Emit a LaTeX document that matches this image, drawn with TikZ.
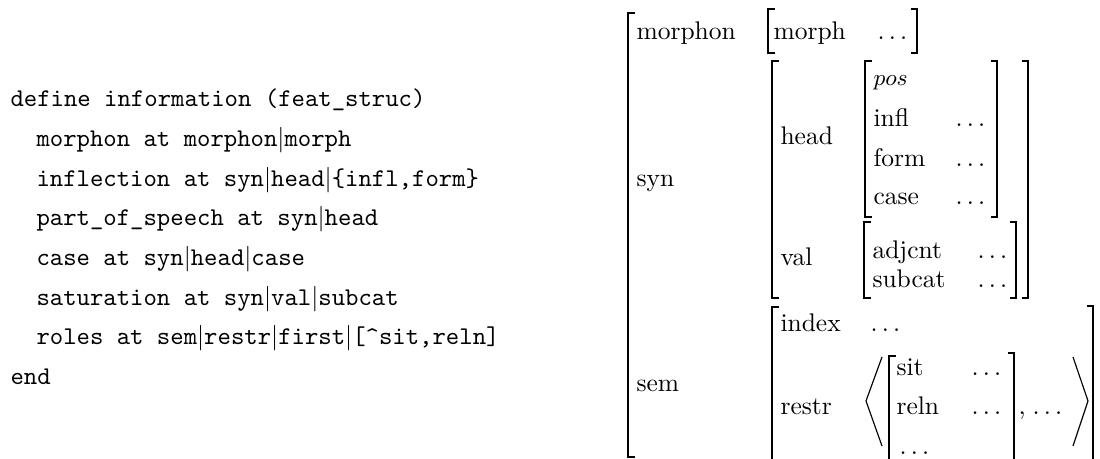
\documentclass[tikz,border=0pt]{standalone}
% opening and closing square brackets of an attribute-value matrix: x, top, bottom
\newcommand\avmopen[3]{\draw[brk] ({#1+6.5},#2) -- (#1,#2) -- (#1,#3) -- ({#1+6.5},#3);}
\newcommand\avmclose[3]{\draw[brk] ({#1-6.5},#2) -- (#1,#2) -- (#1,#3) -- ({#1-6.5},#3);}
\begin{document}
\begin{tikzpicture}[x=0.39216pt,y=-0.39216pt,
  code/.style={anchor=base west,inner sep=0pt,font=\ttfamily},
  feat/.style={anchor=base west,inner sep=0pt},
  brk/.style={line width=0.65pt},
  angl/.style={line width=0.45pt}]
\useasboundingbox (0,0) rectangle (1100,459);
\clip (0,0) rectangle (1100,459);

% the feature declaration
\node[code] (c1) at (10,106.7) {define information (feat\_struc)};
\node[code] (c2) at (36,146.4) {morphon at morphon$|$morph};
\node[code] (c3) at (36,186.1) {inflection at syn$|$head$|$\{infl,form\}};
\node[code] (c4) at (36,225.8) {part\_of\_speech at syn$|$head};
\node[code] (c5) at (36,265.5) {case at syn$|$head$|$case};
\node[code] (c6) at (36,305.2) {saturation at syn$|$val$|$subcat};
\node[code] (c7) at (36,344.9) {roles at sem$|$restr$|$first$|$[\textasciicircum sit,reln]};
\node[code] (c8) at (10,384.6) {end};

% the feature structure
\avmopen{628}{13}{457}
\node[feat] (morphon) at (636,40) {morphon};
\avmopen{768}{9}{53}
\node[feat] (morph) at (773,40) {morph};
\node[feat] (morphv) at (877,40) {$\ldots$};
\avmclose{917}{9}{53}

\node[feat] (syn) at (636,187) {syn};
\avmopen{772}{61}{298}
\avmclose{1028}{61}{298}
\node[feat] (head) at (780,145) {head};
\avmopen{865}{61}{217}
\avmclose{997}{61}{217}
\node[feat] (pos) at (873,86) {\small$pos$};
\node[feat] (infl) at (873,127) {infl};
\node[feat] (inflv) at (955,127) {$\ldots$};
\node[feat] (form) at (873,167) {form};
\node[feat] (formv) at (955,167) {$\ldots$};
\node[feat] (case) at (873,205) {case};
\node[feat] (casev) at (955,205) {$\ldots$};

\node[feat] (val) at (780,266) {val};
\avmopen{864}{222}{298}
\avmclose{1016}{222}{298}
\node[feat] (adjcnt) at (872,259) {adjcnt};
\node[feat] (adjcntv) at (977,259) {$\ldots$};
\node[feat] (subcat) at (872,288) {subcat};
\node[feat] (subcatv) at (977,288) {$\ldots$};

\node[feat] (sem) at (636,391) {sem};
\avmopen{772}{307}{480}
\avmclose{1093}{306}{480}
\node[feat] (index) at (780,332) {index};
\node[feat] (indexv) at (870,332) {$\ldots$};
\node[feat] (restr) at (780,414) {restr};
\draw[angl] (882,357) -- (866,401) -- (882,446);
\avmopen{889}{356}{480}
\avmclose{1014}{353}{480}
\node[feat] (sit) at (896,375) {sit};
\node[feat] (sitv) at (971,375) {$\ldots$};
\node[feat] (reln) at (896,414) {reln};
\node[feat] (relnv) at (971,414) {$\ldots$};
\node[feat] (more) at (899,454) {$\ldots$};
\node[feat] (comma) at (1018,414) {,};
\node[feat] (rest) at (1032,414) {$\ldots$};
\draw[angl] (1073,357) -- (1088,401) -- (1073,446);
\end{tikzpicture}
\end{document}
